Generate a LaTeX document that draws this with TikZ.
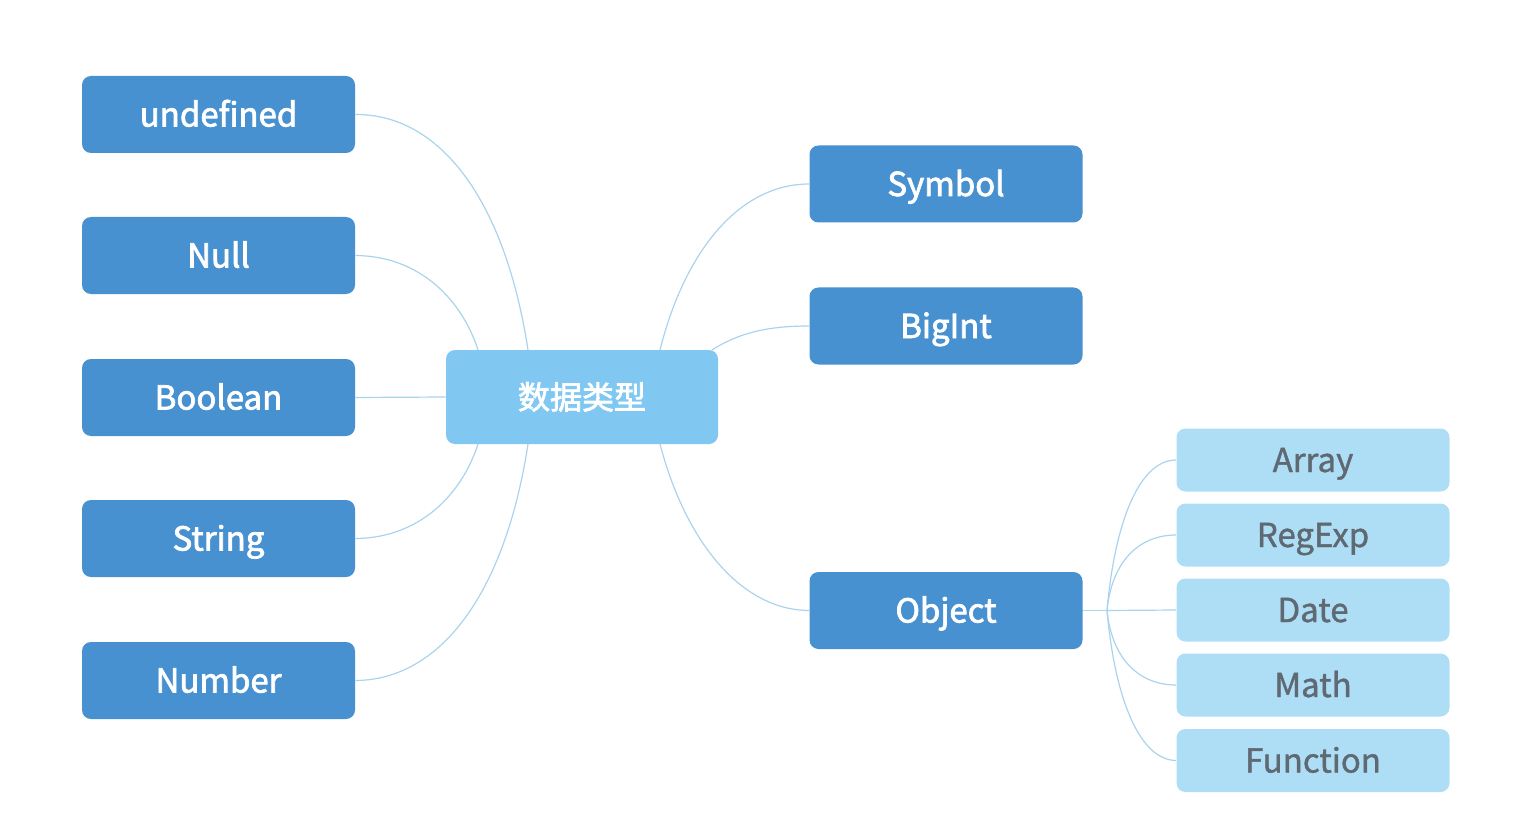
\documentclass[tikz,border=0pt]{standalone}
\usepackage{fontspec}
\setmainfont{Noto Sans CJK SC}
\newfontfamily\medfont[FakeBold=2.2]{Noto Sans CJK SC}
\newfontfamily\leaffont[FakeBold=1.2]{Noto Sans CJK SC}
\begin{document}
\begin{tikzpicture}[x=0.5pt,y=-0.5pt,
  darkbox/.style={fill=dkblue,rounded corners=4.5pt,minimum width=136.5pt,minimum height=38.5pt,inner sep=0pt,text height=13.5pt,text depth=1.5pt,text=white,font=\fontsize{16.5}{18}\medfont},
  rootbox/.style={fill=rootblue,rounded corners=4.5pt,minimum width=136pt,minimum height=47pt,inner sep=0pt,text height=13.5pt,text depth=1.5pt,text=white,font=\fontsize{16}{18}\medfont},
  leafbox/.style={fill=leafblue,rounded corners=4.5pt,minimum width=136.5pt,minimum height=31.5pt,inner sep=0pt,text height=13.5pt,text depth=1.5pt,text=leaftext,font=\fontsize{16.5}{18}\leaffont},
  link/.style={draw=linkblue,line width=0.6pt}]
\definecolor{dkblue}{RGB}{72,145,208}
\definecolor{rootblue}{RGB}{128,200,242}
\definecolor{leafblue}{RGB}{174,222,246}
\definecolor{leaftext}{RGB}{95,105,114}
\definecolor{linkblue}{RGB}{170,212,238}
\useasboundingbox[fill=white] (0,0) rectangle (1520,834);
% nodes
\node[rootbox] (root) at (582,397) {数据类型};
\node[darkbox] (undef) at (218.5,114.5) {undefined};
\node[darkbox] (null) at (218.5,255.5) {Null};
\node[darkbox] (bool) at (218.5,397.5) {Boolean};
\node[darkbox] (str) at (218.5,538.5) {String};
\node[darkbox] (num) at (218.5,680.5) {Number};
\node[darkbox] (sym) at (946,184) {Symbol};
\node[darkbox] (big) at (946,326) {BigInt};
\node[darkbox] (obj) at (946,610.5) {Object};
\node[leafbox] (arr) at (1313,460) {Array};
\node[leafbox] (reg) at (1313,535) {RegExp};
\node[leafbox] (date) at (1313,610) {Date};
\node[leafbox] (math) at (1313,685) {Math};
\node[leafbox] (func) at (1313,760.5) {Function};
% anchor points
\coordinate (rt1) at (528,350);
\coordinate (rt2) at (478,350);
\coordinate (rb1) at (478,444);
\coordinate (rb2) at (528,444);
\coordinate (rt3) at (660,350);
\coordinate (rt4) at (712,350);
\coordinate (rb3) at (660,444);
\coordinate (ob) at (1107,610.5);
% connectors
\draw[link] (undef.east) .. controls (440,114) and (505,200) .. (rt1);
\draw[link] (null.east) .. controls (420,256) and (462,300) .. (rt2);
\draw[link] (bool.east) -- (root.west);
\draw[link] (str.east) .. controls (420,538) and (462,494) .. (rb1);
\draw[link] (num.east) .. controls (440,680) and (505,594) .. (rb2);
\draw[link] (rt3) .. controls (685,250) and (740,184) .. (sym.west);
\draw[link] (rt4) .. controls (740,332) and (770,326) .. (big.west);
\draw[link] (rb3) .. controls (685,540) and (740,610) .. (obj.west);
\draw[link] (obj.east) -- (ob);
\draw[link] (ob) .. controls (1115,520) and (1140,460) .. (arr.west);
\draw[link] (ob) .. controls (1112,560) and (1140,535) .. (reg.west);
\draw[link] (ob) -- (date.west);
\draw[link] (ob) .. controls (1112,660) and (1140,685) .. (math.west);
\draw[link] (ob) .. controls (1115,700) and (1140,760) .. (func.west);
\end{tikzpicture}
\end{document}
